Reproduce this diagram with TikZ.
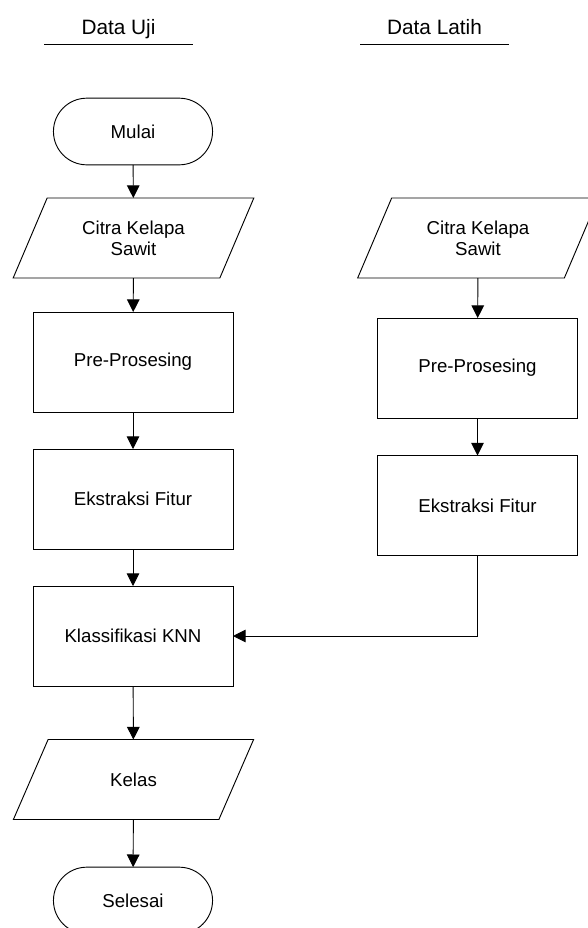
\documentclass[tikz,border=0pt]{standalone}
\usepackage{fontspec}
\setmainfont{Liberation Sans}
\usetikzlibrary{arrows.meta,shapes.geometric,shapes.misc}

\begin{document}
\begin{tikzpicture}[x=0.75pt, y=-0.75pt, line width=0.7pt,
  every node/.style={outer sep=0pt, font=\fontsize{14pt}{16pt}\selectfont, align=center},
  terminal/.style={draw, rounded rectangle, minimum width=126pt, minimum height=50pt},
  process/.style={draw, rectangle, minimum width=150pt, minimum height=75pt},
  io/.style={draw, trapezium, trapezium left angle=63.43, trapezium right angle=116.57,
    trapezium stretches=true, minimum width=180.75pt, minimum height=60pt},
  header/.style={anchor=south, minimum width=111.75pt, inner ysep=5pt,
    text height=0.75em, text depth=0.25em, font=\fontsize{15.6pt}{18pt}\selectfont},
  arr/.style={-{Triangle[length=9.5pt,width=9.5pt]}}]
\useasboundingbox (0,0) rectangle (587,928);

% Column titles
\node[header] (uji) at (118.5,44) {Data Uji};
\draw (uji.south west) -- (uji.south east);
\node[header] (latih) at (434.5,44) {Data Latih};
\draw (latih.south west) -- (latih.south east);

% Data uji
\node[terminal] (mulai) at (133,131.5) {Mulai};
\node[io] (citra1) at (133.5,238) {Citra Kelapa\\Sawit};
\node[process] (pre1) at (133,362) {Pre-Prosesing};
\node[process] (fitur1) at (133,499) {Ekstraksi Fitur};
\node[process] (knn) at (133,636) {Klassifikasi KNN};
\node[io] (kelas) at (133.5,779.5) {Kelas};
\node[terminal] (selesai) at (133,900.5) {Selesai};

% Data latih
\node[io] (citra2) at (478,238) {Citra Kelapa\\Sawit};
\node[process] (pre2) at (477.5,368) {Pre-Prosesing};
\node[process] (fitur2) at (477.5,505.5) {Ekstraksi Fitur};

% Arrows
\draw[arr] (mulai) -- (citra1);
\draw[arr] (citra1) -- (pre1);
\draw[arr] (pre1) -- (fitur1);
\draw[arr] (fitur1) -- (knn);
\draw[arr] (knn) -- (kelas);
\draw[arr] (kelas) -- (selesai);
\draw[arr] (citra2) -- (pre2);
\draw[arr] (pre2) -- (fitur2);
\draw[arr] (fitur2.south) |- (knn.east);
\end{tikzpicture}
\end{document}
